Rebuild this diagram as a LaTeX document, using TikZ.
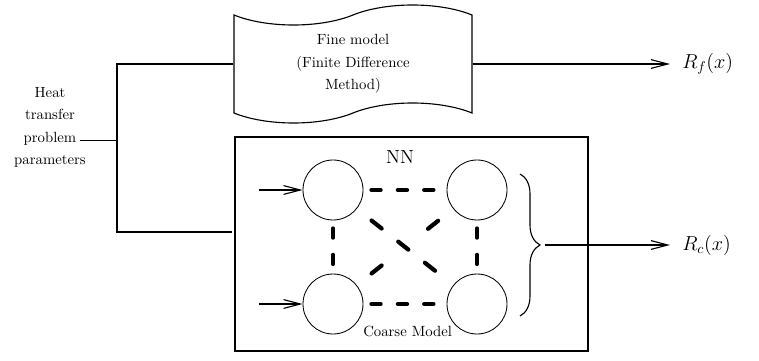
\documentclass[tikz,border=0pt]{standalone}
\usepackage{tikz}
\usetikzlibrary{positioning,arrows.meta,shapes.symbols,decorations.pathreplacing,calc}
\tikzset{>={Straight Barb[length=0.42cm,width=0.22cm]}}

\begin{document}
\begin{tikzpicture}
    \tikzset{
      txt/.style={align=center, font=\fontsize{10.5}{16}\selectfont},
      neuron/.style={circle, draw, semithick, minimum size=1.5cm, inner sep=0pt},
      link/.style={line width=3pt, line cap=round, dash pattern=on 0.23cm off 0.43cm, shorten <=0.2cm, shorten >=0.2cm},
      diag/.style={line width=3pt, line cap=round, shorten <=0.47cm, shorten >=0.47cm},
      outlabel/.style={anchor=west, inner sep=0.3cm, font=\Large},
    }
    \useasboundingbox (0,0) rectangle (18.975,9);

    % Fine and coarse model.
    \node[tape, draw, thick, txt, minimum width=5.95cm, minimum height=2.95cm, tape bend height=0.5cm] (fine) at (8.825,7.4) {Fine model\\(Finite Difference\\Method)};
    \node[draw, thick, minimum width=8.825cm, minimum height=5.35cm] (coarse) at (10.2875,2.9) {};
    \node[font=\fontsize{13.5}{16}\selectfont] (nn) at (10,5.075) {NN};
    \node[txt] (cm) at (10.19,0.725) {Coarse Model};

    % Neurons.
    \node[neuron] (n1) at (8.325,4.25) {};
    \node[neuron] (n2) at (11.925,4.25) {};
    \node[neuron] (n3) at (8.325,1.4) {};
    \node[neuron] (n4) at (11.925,1.4) {};

    % Links (dashed).
    \draw[link] (n1) -- (n2);
    \draw[link] (n3) -- (n4);
    \draw[link] (n1) -- (n3);
    \draw[link] (n2) -- (n4);
    \draw[diag, dash pattern=on 0.32cm off 0.53cm] (n1) -- (n4);
    \draw[diag, dash pattern=on 0.32cm off 1.48cm] (n3) -- (n2);

    % Inputs.
    \coordinate[left=1.1cm of n1.west] (in1);
    \coordinate[left=1.1cm of n3.west] (in3);
    \draw[thick,->] (in1) -- (n1);
    \draw[thick,->] (in3) -- (n3);

    % Parameters feeding both models.
    \node[txt, inner sep=0pt] (params) at (1.25,5.8125) {Heat\\transfer\\problem\\parameters};
    \coordinate (split) at (2.925,3.2);
    \coordinate (cin) at (5.8,3.2);
    \coordinate (pp) at ([xshift=0.75cm,yshift=-0.33cm]params.center);
    \draw[thick] (pp) -- (pp -| split);
    \draw[thick] (fine.west) -| (split) -- (cin);

    % Outputs.
    \coordinate (bt) at (13,4.65);
    \coordinate (bb) at (13,1.1);
    \coordinate (tip) at (13.62,2.875);
    \draw[thick, decorate, decoration={brace, amplitude=0.5cm}] (bt) -- (bb);
    \node[outlabel] (rf) at (16.75,7.4) {$R_f(x)$};
    \node[outlabel] (rc) at (16.75,2.875) {$R_c(x)$};
    \draw[thick,->] (fine.east) -- (rf.west);
    \draw[thick,->] (tip) -- (rc.west);
\end{tikzpicture}
\end{document}
